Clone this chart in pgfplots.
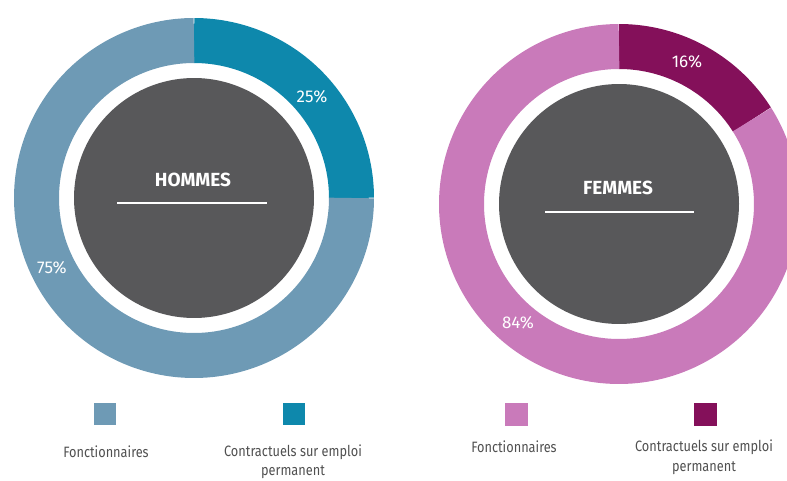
\documentclass[border=0pt]{standalone}
\usepackage{fontspec}
\setmainfont{Fira Sans}[FakeStretch=0.85]
\newfontfamily\widefont{Fira Sans}
\usepackage{pgfplots}
\usepackage{pgfplotstable}
\pgfplotsset{compat=1.18}
\definecolor{hF}{HTML}{6E9AB5}
\definecolor{hC}{HTML}{0E88AC}
\definecolor{fF}{HTML}{C97ABA}
\definecolor{fC}{HTML}{84105A}
\definecolor{core}{HTML}{58585A}
\definecolor{legtxt}{HTML}{505050}
\pgfplotstableread{
sex fonct contr
H 75 25
F 84 16
}\donutdata
\pgfplotstablegetelem{0}{contr}\of\donutdata \edef\hc{\pgfplotsretval}
\pgfplotstablegetelem{1}{contr}\of\donutdata \edef\fc{\pgfplotsretval}
\pgfplotstablegetelem{0}{fonct}\of\donutdata \edef\hf{\pgfplotsretval}
\pgfplotstablegetelem{1}{fonct}\of\donutdata \edef\ff{\pgfplotsretval}
\pgfmathsetmacro{\hA}{90-3.6*\hc}
\pgfmathsetmacro{\fA}{90-3.6*\fc}
\begin{document}
\begin{tikzpicture}
\begin{axis}[name=ax,width=787pt,height=480pt,scale only axis,
  xmin=0,xmax=787,ymin=0,ymax=480,hide axis,clip=true]
% HOMMES donut
\addplot[draw=hC,line width=45pt,domain=\hA:90,samples=60] ({194+157.5*cos(x)},{282+157.5*sin(x)});
\addplot[draw=hF,line width=45pt,domain=-270:\hA,samples=180] ({194+157.5*cos(x)},{282+157.5*sin(x)});
\addplot[fill=core,draw=none,domain=0:360,samples=180] ({194+120*cos(x)},{282+120*sin(x)});
% FEMMES donut
\addplot[draw=fC,line width=45pt,domain=\fA:90,samples=60] ({619+157.5*cos(x)},{276+157.5*sin(x)});
\addplot[draw=fF,line width=45pt,domain=-270:\fA,samples=180] ({619+157.5*cos(x)},{276+157.5*sin(x)});
\addplot[fill=core,draw=none,domain=0:360,samples=180] ({619+120*cos(x)},{276+120*sin(x)});
% legend squares
\addplot[only marks,mark=square*,mark size=10.5pt,color=hF,mark options={draw=hF,fill=hF}] coordinates {(105,66.5)};
\addplot[only marks,mark=square*,mark size=10.5pt,color=hC,mark options={draw=hC,fill=hC}] coordinates {(293.5,66.5)};
\addplot[only marks,mark=square*,mark size=11pt,color=fF,mark options={draw=fF,fill=fF}] coordinates {(516,66)};
\addplot[only marks,mark=square*,mark size=11pt,color=fC,mark options={draw=fC,fill=fC}] coordinates {(705,66)};
% centre titles
\node[text=white,font=\widefont\bfseries\fontsize{19}{19}\selectfont] at (axis cs:193,300) {HOMMES};
\draw[white,line width=1.6pt] (axis cs:117,277) -- (axis cs:267,277);
\node[text=white,font=\widefont\bfseries\fontsize{19}{19}\selectfont] at (axis cs:618,292) {FEMMES};
\draw[white,line width=1.6pt] (axis cs:545,268) -- (axis cs:694,268);
% percent labels
\node[text=white,font=\widefont\fontsize{17}{17}\selectfont] at (axis cs:312,383) {\hc\%};
\node[text=white,font=\widefont\fontsize{17}{17}\selectfont] at (axis cs:52,212) {\hf\%};
\node[text=white,font=\widefont\fontsize{17}{17}\selectfont] at (axis cs:687,418) {\fc\%};
\node[text=white,font=\widefont\fontsize{17}{17}\selectfont] at (axis cs:518,157) {\ff\%};
% legend labels
\node[text=legtxt,font=\fontsize{15}{15}\selectfont] at (axis cs:106,28) {Fonctionnaires};
\node[text=legtxt,font=\fontsize{15}{15}\selectfont] at (axis cs:293,28) {Contractuels sur emploi};
\node[text=legtxt,font=\fontsize{15}{15}\selectfont] at (axis cs:293,8) {permanent};
\node[text=legtxt,font=\fontsize{15}{15}\selectfont] at (axis cs:514,33) {Fonctionnaires};
\node[text=legtxt,font=\fontsize{15}{15}\selectfont] at (axis cs:704,33) {Contractuels sur emploi};
\node[text=legtxt,font=\fontsize{15}{15}\selectfont] at (axis cs:704,12) {permanent};
\end{axis}
\pgfresetboundingbox
\path[use as bounding box] (ax.south west) rectangle (ax.north east);
\end{tikzpicture}
\end{document}
